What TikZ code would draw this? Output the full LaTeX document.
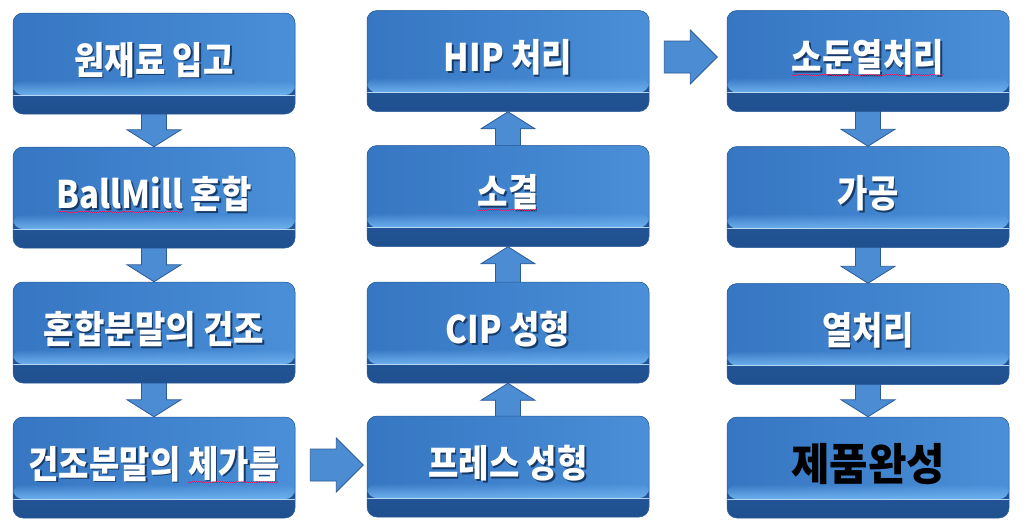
\documentclass[tikz,border=0pt]{standalone}
\usepackage{fontspec}
\usetikzlibrary{fadings,calc}
\newfontfamily\kr{Noto Sans CJK KR}[FakeStretch=0.87]
\newfontfamily\krw{Noto Sans CJK KR}[FakeStretch=0.95]
\definecolor{faceL}{HTML}{3676C2}
\definecolor{faceR}{HTML}{4A8FD8}
\definecolor{bevel}{HTML}{6DB0EC}
\definecolor{sideT}{HTML}{2E6AB5}
\definecolor{sideB}{HTML}{1F4F8E}
\definecolor{edge}{HTML}{2A5C9C}
\definecolor{arrfill}{HTML}{4C8CD2}
\definecolor{arredge}{HTML}{2B5B98}
\definecolor{txtsh}{HTML}{173A66}
\definecolor{squigc}{HTML}{D0206A}
\pgfdeclarelayer{background}
\pgfsetlayers{background,main}
\newcommand\sq[1]{\setbox0\hbox{#1}\rlap{\lower4pt\hbox to\wd0{\color{squigc}\leaders\hbox{\rule{1.1pt}{0.7pt}\rule[0.9pt]{1.1pt}{0.7pt}}\hfil}}\box0\relax}
\newcommand\plainarg[1]{#1}
\newcommand\lbl[1]{\raisebox{10.5pt}{\rlap{\kern1.6pt\raisebox{-1.6pt}{\color{txtsh}\let\sq\plainarg #1}}#1}}
\tikzset{
  btn/.style={rectangle, rounded corners=10pt, minimum width=282pt, minimum height=101pt,
    inner sep=0pt, draw=edge, line width=0.5pt, text=white,
    font=\kr\bfseries\fontsize{38}{42}\selectfont,
    path picture={
      \shade[top color=sideT, bottom color=sideB] (path picture bounding box.north west) rectangle (path picture bounding box.south east);
      \shade[left color=faceL, right color=faceR] (path picture bounding box.north west) rectangle ([yshift=19pt]path picture bounding box.south east);
      \fill[bevel, path fading=north] ([yshift=19pt]path picture bounding box.south west) rectangle ([yshift=34pt]path picture bounding box.south east);
      \draw[bevel!50!white, line width=0.8pt] ([yshift=19pt]path picture bounding box.south west) -- ([yshift=19pt]path picture bounding box.south east);
    }},
  blockarrow/.style={fill=arrfill, draw=arredge, line width=0.8pt, line join=miter},
}
\newcommand\darr[2]{\filldraw[blockarrow] let \p1=(#1.south), \p2=(#2.north) in
  (\x1-12.5pt,\y1+3pt) -- (\x1+12.5pt,\y1+3pt) -- (\x1+12.5pt,\y2+17pt) -- (\x1+27pt,\y2+17pt)
  -- (\x1,\y2) -- (\x1-27pt,\y2+17pt) -- (\x1-12.5pt,\y2+17pt) -- cycle;}
\newcommand\uarr[2]{\filldraw[blockarrow] let \p1=(#1.north), \p2=(#2.south) in
  (\x1-12.5pt,\y1-3pt) -- (\x1+12.5pt,\y1-3pt) -- (\x1+12.5pt,\y2-17pt) -- (\x1+27pt,\y2-17pt)
  -- (\x1,\y2) -- (\x1-27pt,\y2-17pt) -- (\x1-12.5pt,\y2-17pt) -- cycle;}
\newcommand\rarr[3]{\filldraw[blockarrow] let \p1=(#1.east), \p2=(#2.west) in
  (\x1+15pt,\y1+#3+16pt) -- (\x1+41pt,\y1+#3+16pt) -- (\x1+41pt,\y1+#3+27pt) -- (\x1+68pt,\y1+#3)
  -- (\x1+41pt,\y1+#3-27pt) -- (\x1+41pt,\y1+#3-16pt) -- (\x1+15pt,\y1+#3-16pt) -- cycle;}
\begin{document}
\begin{tikzpicture}[x=1pt,y=-1pt]
\useasboundingbox (0,0) rectangle (1024,531);
% column 1
\node[btn] (a1) at (154,63.5) {\lbl{원재료 입고}};
\node[btn] (a2) at (154,197.5) {\lbl{\sq{BallMill} 혼합}};
\node[btn] (a3) at (154,332.5) {\lbl{혼합분말의 건조}};
\node[btn] (a4) at (154,467.5) {\lbl{건조분말의 \sq{체가름}}};
% column 2
\node[btn] (b1) at (508,61) {\lbl{HIP 처리}};
\node[btn] (b2) at (508,196) {\lbl{\sq{소결}}};
\node[btn] (b3) at (508,332.5) {\lbl{CIP 성형}};
\node[btn] (b4) at (508,466.5) {\lbl{프레스 성형}};
% column 3
\node[btn] (c1) at (868,61) {\lbl{\sq{소둔열처리}}};
\node[btn] (c2) at (868,197) {\lbl{가공}};
\node[btn] (c3) at (868,334) {\lbl{열처리}};
\node[btn, text=black, font=\krw\bfseries\fontsize{44}{48}\selectfont] (c4) at (868,467.5) {\raisebox{11pt}{제품완성}};
\begin{pgfonlayer}{background}
\fill[white] (0,0) rectangle (1024,531);
\darr{a1}{a2}
\darr{a2}{a3}
\darr{a3}{a4}
\uarr{b4}{b3}
\uarr{b3}{b2}
\uarr{b2}{b1}
\darr{c1}{c2}
\darr{c2}{c3}
\darr{c3}{c4}
\end{pgfonlayer}
\rarr{a4}{b4}{2.5pt}
\rarr{b1}{c1}{4pt}
\end{tikzpicture}
\end{document}
